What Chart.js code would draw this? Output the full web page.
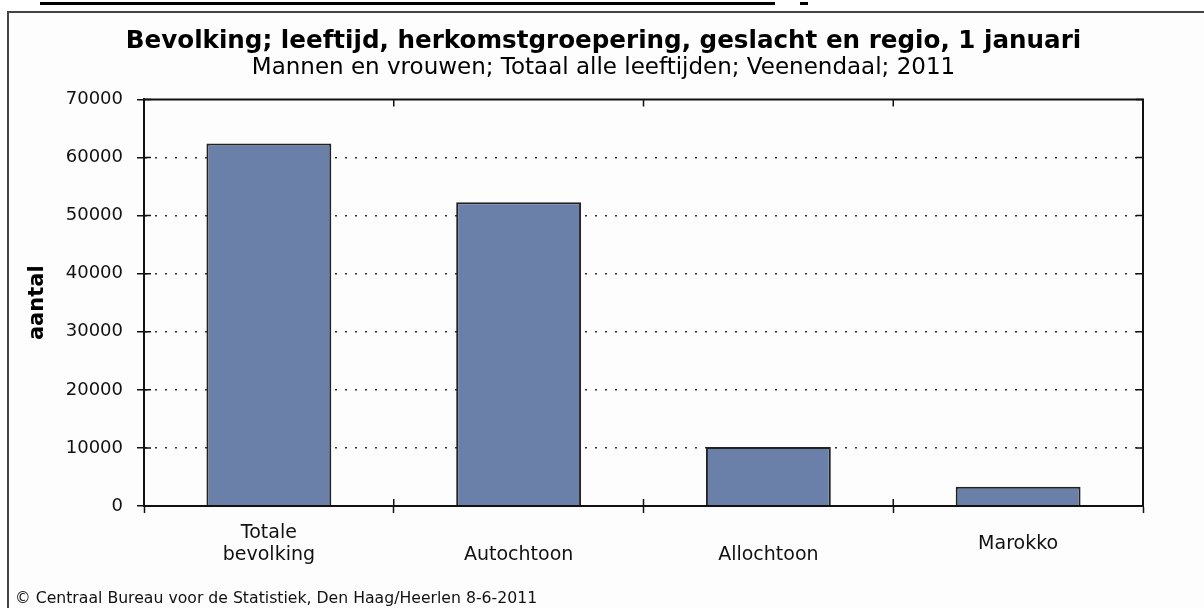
<!DOCTYPE html>
<html>
<head>
<meta charset="utf-8">
<script src="https://cdn.jsdelivr.net/npm/chart.js@4.4.1/dist/chart.umd.min.js"></script>
<style>
  html, body { margin: 0; padding: 0; background: #fff; }
  body { width: 1204px; height: 608px; overflow: hidden; position: relative; }
  #rule { position: absolute; left: 40px; top: 2px; width: 735px; height: 3px; background: #000; }
  #rule2 { position: absolute; left: 800px; top: 2px; width: 8px; height: 3px; background: #000; }
  #frame { position: absolute; left: 7px; top: 11px; width: 1220px; height: 620px;
           border-left: 2px solid #444; border-top: 2px solid #444; background: #fdfdfd; }
  #chart { position: absolute; left: 0; top: 0; }
  #footer { position: absolute; left: 15px; top: 588px; white-space: nowrap;
            font: 15.7px 'DejaVu Sans', Verdana, sans-serif; color: #111; }
</style>
</head>
<body>
<div id="rule"></div><div id="rule2"></div>
<div id="frame"></div>
<canvas id="chart" width="1204" height="608"></canvas>
<div id="footer">© Centraal Bureau voor de Statistiek, Den Haag/Heerlen 8-6-2011</div>
<script>
// data
var titel = "Bevolking; leeftijd, herkomstgroepering, geslacht en regio, 1 januari";
var subtitel = "Mannen en vrouwen; Totaal alle leeftijden; Veenendaal; 2011";
var categories = [["Totale", "bevolking"], ["", "Autochtoon"], ["", "Allochtoon"], "Marokko"];
var aantallen = [62400, 52300, 10150, 3300];
var yTicks = [0, 10000, 20000, 30000, 40000, 50000, 60000, 70000];

Chart.defaults.font.family = "'DejaVu Sans', Verdana, sans-serif";
Chart.defaults.color = "#111";

// top/right border of the plot and the small inward tick marks
var plotFrame = {
  id: "plotFrame",
  afterDraw: function (chart) {
    var ctx = chart.ctx, a = chart.chartArea;
    var x = chart.scales.x, y = chart.scales.y;
    ctx.save();
    ctx.strokeStyle = "#111";
    ctx.lineWidth = 2;
    ctx.beginPath();
    ctx.moveTo(a.left, a.top);
    ctx.lineTo(a.right, a.top);
    ctx.lineTo(a.right, a.bottom);
    ctx.stroke();
    ctx.lineWidth = 1.5;
    ctx.beginPath();
    y.ticks.forEach(function (t) {
      var py = y.getPixelForValue(t.value);
      ctx.moveTo(a.left, py); ctx.lineTo(a.left + 7, py);
      ctx.moveTo(a.right - 7, py); ctx.lineTo(a.right, py);
    });
    for (var i = 1; i < categories.length; i++) {
      var px = x.getPixelForValue(i - 0.5);
      ctx.moveTo(px, a.bottom - 7); ctx.lineTo(px, a.bottom);
      ctx.moveTo(px, a.top); ctx.lineTo(px, a.top + 7);
    }
    ctx.stroke();
    ctx.restore();
  }
};

var ctx = document.getElementById("chart").getContext("2d");

var myChart = new Chart(ctx, {
  type: "bar",
  data: {
    labels: categories,
    datasets: [
      {
        label: "aantal",
        data: aantallen,
        backgroundColor: "#6a80a8",
        borderColor: "#222",
        borderWidth: 2,
        barPercentage: 0.5,
        categoryPercentage: 1,
      },
    ],
  },
  options: {
    responsive: false,
    animation: false,
    layout: { padding: { left: 64, right: 61, top: 0, bottom: 32 } },
    plugins: {
      legend: { display: false },
      tooltip: { enabled: false },
      title: {
        display: true,
        text: titel,
        color: "#000",
        font: { size: 24.6, weight: "bold", lineHeight: 1 },
        padding: { top: 29.4, bottom: 0 },
      },
      subtitle: {
        display: true,
        text: subtitel,
        color: "#000",
        font: { size: 23, lineHeight: 1 },
        padding: { top: 3, bottom: 19.4 },
      },
    },
    scales: {
      x: {
        grid: { offset: true, drawOnChartArea: false, tickLength: 7, tickColor: "#111", tickWidth: 1.5 },
        border: { color: "#111", width: 2, z: 1 },
        ticks: {
          font: { size: 19, lineHeight: 22 / 19 },
          color: "#111",
          padding: 20,
          crossAlign: "center",
          maxRotation: 0,
          autoSkip: false,
        },
        afterFit: function (s) { s.height = 70; },
      },
      y: {
        min: 0,
        max: 70000,
        afterBuildTicks: function (s) {
          s.ticks = yTicks.map(function (v) { return { value: v }; });
        },
        grid: {
          color: function (c) {
            var v = c.tick && c.tick.value;
            return v === 0 || v === 70000 ? "rgba(0,0,0,0)" : "#333";
          },
          lineWidth: 1.5,
          tickLength: 7,
          tickColor: "#111",
          tickWidth: 1.5,
        },
        border: { color: "#111", width: 2, dash: [2, 8], z: 1 },
        ticks: {
          font: { size: 18 },
          color: "#111",
          padding: 14,
          callback: function (v) { return String(v); },
        },
        title: {
          display: true,
          text: "aantal",
          color: "#000",
          font: { size: 21, weight: "bold" },
          padding: { top: -38.6, bottom: 0 },
        },
        afterFit: function (s) { s.width = 80; },
      },
    },
  },
  plugins: [plotFrame],
});
</script>
</body>
</html>
